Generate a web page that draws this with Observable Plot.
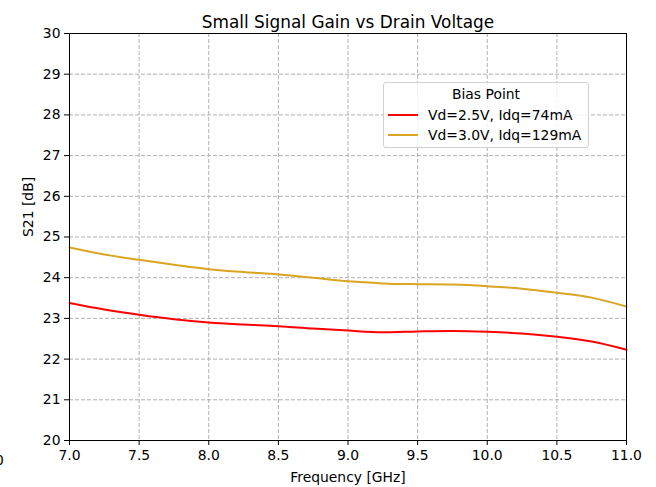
<!DOCTYPE html>
<html>
<head>
<meta charset="utf-8">
<script src="https://cdn.jsdelivr.net/npm/d3@7"></script>
<script src="https://cdn.jsdelivr.net/npm/@observablehq/plot@0.6"></script>
<style>
  html, body { margin: 0; padding: 0; background: white; }
  #wrap { position: relative; width: 656px; height: 487px; overflow: hidden; font-family: "DejaVu Sans", sans-serif; }
  #legend { position: absolute; left: 383px; top: 82px; width: 206px; height: 66px; border: 1px solid #d0d0d0; border-radius: 3px; background: rgba(255,255,255,0.8); box-sizing: border-box; font-size: 13.9px; color: #000; }
  #legend .ttl { position: absolute; left: 0; right: 0; top: 3px; text-align: center; }
  #legend .row { position: absolute; left: 4px; height: 16px; display: flex; align-items: center; white-space: nowrap; }
  #legend .row svg { margin-right: 10px; }
  #stray { position: absolute; left: -5px; top: 452px; font-size: 13.9px; }
</style>
</head>
<body>
<div id="wrap"></div>
<script>
const title = "Small Signal Gain vs Drain Voltage";
const xLabel = "Frequency [GHz]";
const yLabel = "S21 [dB]";
const legendTitle = "Bias Point";
const seriesNames = ["Vd=2.5V, Idq=74mA", "Vd=3.0V, Idq=129mA"];
const seriesColors = ["#ff0000", "#daa520"];
const xTicks = [7.0, 7.5, 8.0, 8.5, 9.0, 9.5, 10.0, 10.5, 11.0];
const yTicks = [20, 21, 22, 23, 24, 25, 26, 27, 28, 29, 30];
const freq = [7.0, 7.25, 7.5, 7.75, 8.0, 8.25, 8.5, 8.75, 9.0, 9.25, 9.5, 9.75, 10.0, 10.25, 10.5, 10.75, 11.0];
const gain25 = [23.38, 23.22, 23.09, 22.98, 22.90, 22.85, 22.81, 22.75, 22.70, 22.66, 22.68, 22.69, 22.67, 22.63, 22.55, 22.43, 22.23];
const gain30 = [24.74, 24.57, 24.44, 24.32, 24.21, 24.14, 24.08, 24.00, 23.91, 23.86, 23.84, 23.83, 23.79, 23.73, 23.63, 23.51, 23.29];

const data = [];
freq.forEach((f, i) => {
  data.push({f, g: gain25[i], s: seriesNames[0]});
  data.push({f, g: gain30[i], s: seriesNames[1]});
});

const chart = Plot.plot({
  width: 656,
  height: 487,
  marginLeft: 69,
  marginRight: 30,
  marginTop: 33,
  marginBottom: 47,
  style: { fontFamily: "DejaVu Sans, sans-serif", fontSize: "13.9px", background: "white", color: "black" },
  x: { domain: [7, 11] },
  y: { domain: [20, 30] },
  color: { domain: seriesNames, range: seriesColors },
  marks: [
    Plot.gridX(xTicks, { stroke: "#b0b0b0", strokeOpacity: 1, strokeDasharray: "4,2", strokeWidth: 1 }),
    Plot.gridY(yTicks, { stroke: "#b0b0b0", strokeOpacity: 1, strokeDasharray: "4,2", strokeWidth: 1 }),
    Plot.line(data, { x: "f", y: "g", z: "s", stroke: "s", strokeWidth: 2, curve: "catmull-rom" }),
    Plot.frame({ stroke: "black", strokeWidth: 1 }),
    Plot.axisX(xTicks, { tickFormat: d => d.toFixed(1), tickSize: 5, tickPadding: 5, label: null, fontSize: 13.9 }),
    Plot.axisY(yTicks, { tickFormat: d => String(d), tickSize: 5, tickPadding: 4, label: null, fontSize: 13.9 }),
    Plot.text([xLabel], { frameAnchor: "bottom", dy: 41, fontSize: 13.9 }),
    Plot.text([yLabel], { frameAnchor: "left", rotate: -90, dx: -41, fontSize: 13.9 }),
    Plot.text([title], { frameAnchor: "top", dy: -18, fontSize: 16.9 })
  ]
});

const wrap = document.getElementById("wrap");
wrap.appendChild(chart);

const legend = document.createElement("div");
legend.id = "legend";
let html = `<div class="ttl">${legendTitle}</div>`;
seriesNames.forEach((n, i) => {
  html += `<div class="row" style="top:${24 + i * 20}px"><svg width="30" height="4"><line x1="0" x2="30" y1="2" y2="2" stroke="${seriesColors[i]}" stroke-width="2"/></svg><span>${n}</span></div>`;
});
legend.innerHTML = html;
wrap.appendChild(legend);

const stray = document.createElement("div");
stray.id = "stray";
stray.textContent = "0";
wrap.appendChild(stray);
</script>
</body>
</html>
